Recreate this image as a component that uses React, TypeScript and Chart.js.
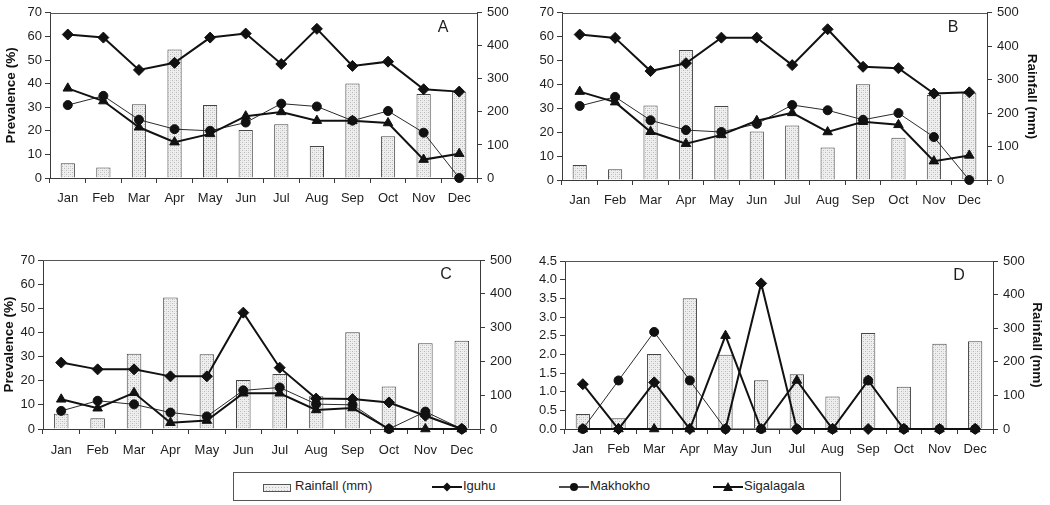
import React, { useEffect, useRef } from "react";
import { Chart, registerables } from "chart.js";

Chart.register(...registerables);

const months = ["Jan", "Feb", "Mar", "Apr", "May", "Jun", "Jul", "Aug", "Sep", "Oct", "Nov", "Dec"];
const rainfall = [45, 32, 223, 389, 221, 145, 163, 97, 286, 126, 254, 261];

const iguhuA = [60.8, 59.5, 45.8, 48.8, 59.5, 61.2, 48.3, 63.2, 47.5, 49.3, 37.6, 36.6];
const makhokhoA = [30.9, 34.8, 24.7, 20.7, 20.0, 23.5, 31.5, 30.3, 24.3, 28.4, 19.2, 0];
const sigalagalaA = [38.0, 32.6, 21.5, 15.2, 18.7, 26.2, 28.0, 24.3, 24.3, 23.3, 7.8, 10.3];

const iguhuB = [60.9, 59.5, 45.6, 48.9, 59.6, 59.6, 48.1, 63.1, 47.4, 46.8, 36.2, 36.7];
const makhokhoB = [31.0, 34.8, 25.0, 20.9, 20.1, 23.5, 31.4, 29.2, 25.2, 28.0, 18.0, 0];
const sigalagalaB = [37.0, 32.6, 20.2, 15.2, 18.9, 24.8, 28.1, 20.1, 24.4, 23.1, 7.9, 10.3];

const iguhuC = [27.5, 24.7, 24.7, 21.8, 21.8, 48.2, 25.4, 12.6, 12.4, 11.0, 5.5, 0];
const makhokhoC = [7.5, 11.7, 10.2, 6.8, 5.2, 16.0, 17.2, 10.3, 10.0, 0, 7.2, 0];
const sigalagalaC = [12.3, 8.6, 15.0, 2.6, 3.5, 14.8, 14.8, 7.9, 8.7, 0, 0, 0];

const iguhuD = [1.2, 0, 1.25, 0, 0, 3.9, 0, 0, 0, 0, 0, 0];
const makhokhoD = [0, 1.3, 2.6, 1.3, 0, 0, 0, 0, 1.3, 0, 0, 0];
const sigalagalaD = [0, 0, 0, 0, 2.5, 0, 1.3, 0, 1.3, 0, 0, 0];

const prevalenceTicks70 = { max: 70, step: 10, decimals: 0 };
const prevalenceTicks45 = { max: 4.5, step: 0.5, decimals: 1 };
const rainfallTicks = { max: 500, step: 100 };

const FONT = "'Liberation Sans', Arial, sans-serif";
const TEXT = "#1e1e1e";
const AXIS = "#3a3a3a";

function makePattern(): CanvasPattern | string {
  const c = document.createElement("canvas");
  c.width = 4;
  c.height = 4;
  const ctx = c.getContext("2d");
  if (!ctx) return "#eeeeee";
  ctx.fillStyle = "#efefef";
  ctx.fillRect(0, 0, 4, 4);
  ctx.fillStyle = "#b8b8b8";
  ctx.fillRect(0, 0, 1, 1);
  ctx.fillRect(2, 2, 1, 1);
  ctx.fillStyle = "#d8d8d8";
  ctx.fillRect(2, 0, 1, 1);
  ctx.fillRect(0, 2, 1, 1);
  return ctx.createPattern(c, "repeat") || "#eeeeee";
}

type PanelProps = {
  left: number;
  top: number;
  width: number;
  height: number;
  areaTop: number;
  leftW: number;
  rightW: number;
  xH: number;
  letter: string;
  iguhu: number[];
  makhokho: number[];
  sigalagala: number[];
  yTicks: { max: number; step: number; decimals: number };
  leftTitle: boolean;
  leftTitlePad: number;
  rightTitle: boolean;
  rightTitlePad: number;
  xPad: number;
};

function Panel(p: PanelProps) {
  const ref = useRef<HTMLCanvasElement | null>(null);
  useEffect(() => {
    if (!ref.current) return;
    const pattern = makePattern();
    const panelPlugin = {
      id: "panelDecor",
      afterDraw(chart: any) {
        const { ctx, chartArea } = chart;
        ctx.save();
        ctx.strokeStyle = "#555";
        ctx.lineWidth = 1;
        ctx.beginPath();
        ctx.moveTo(chartArea.left, Math.round(chartArea.top) + 0.5);
        ctx.lineTo(chartArea.right, Math.round(chartArea.top) + 0.5);
        ctx.stroke();
        ctx.fillStyle = TEXT;
        ctx.font = `16px ${FONT}`;
        ctx.textAlign = "center";
        ctx.textBaseline = "middle";
        ctx.fillText(p.letter, chartArea.right - 34, chartArea.top + 15);
        ctx.restore();
      },
    };
    const tickFont = { family: FONT, size: 13 };
    const titleFont = { family: FONT, size: 13.5, weight: "bold" as const };
    const chart = new Chart(ref.current, {
      type: "bar",
      data: {
        labels: months,
        datasets: [
          {
            type: "line",
            label: "Iguhu",
            data: p.iguhu,
            yAxisID: "y",
            borderColor: "#111",
            borderWidth: 2,
            pointStyle: "rectRot",
            pointRadius: 5.5,
            pointBackgroundColor: "#111",
            pointBorderColor: "#111",
            pointBorderWidth: 1,
            tension: 0,
            clip: false,
            order: 1,
          },
          {
            type: "line",
            label: "Makhokho",
            data: p.makhokho,
            yAxisID: "y",
            borderColor: "#2a2a2a",
            borderWidth: 1,
            pointStyle: "circle",
            pointRadius: 4.5,
            pointBackgroundColor: "#111",
            pointBorderColor: "#111",
            pointBorderWidth: 1,
            tension: 0,
            clip: false,
            order: 2,
          },
          {
            type: "line",
            label: "Sigalagala",
            data: p.sigalagala,
            yAxisID: "y",
            borderColor: "#111",
            borderWidth: 2,
            pointStyle: "triangle",
            pointRadius: 5.5,
            pointBackgroundColor: "#111",
            pointBorderColor: "#111",
            pointBorderWidth: 1,
            tension: 0,
            clip: false,
            order: 0,
          },
          {
            type: "bar",
            label: "Rainfall (mm)",
            data: rainfall,
            yAxisID: "y1",
            backgroundColor: pattern as any,
            borderColor: "#454545",
            borderWidth: 1,
            barPercentage: 0.4,
            categoryPercentage: 1,
            order: 10,
          },
        ] as any,
      },
      options: {
        animation: false,
        responsive: false,
        maintainAspectRatio: false,
        devicePixelRatio: 1,
        layout: { padding: { top: p.areaTop, left: 0, right: 0, bottom: 0 } },
        plugins: { legend: { display: false }, tooltip: { enabled: false } },
        scales: {
          x: {
            offset: true,
            grid: { display: true, drawOnChartArea: false, offset: true, tickLength: 5, color: AXIS },
            border: { display: true, color: AXIS, width: 1 },
            ticks: { color: TEXT, font: tickFont, padding: p.xPad, maxRotation: 0, autoSkip: false },
            afterFit: (s: any) => {
              s.height = p.xH;
            },
          },
          y: {
            position: "left",
            min: 0,
            max: p.yTicks.max,
            ticks: {
              stepSize: p.yTicks.step,
              color: TEXT,
              font: tickFont,
              padding: 3,
              callback: (v: any) => Number(v).toFixed(p.yTicks.decimals),
            },
            grid: { drawOnChartArea: false, tickLength: 5, color: AXIS },
            border: { display: true, color: AXIS, width: 1 },
            title: {
              display: p.leftTitle,
              text: "Prevalence (%)",
              color: "#111",
              font: titleFont,
              padding: { top: p.leftTitlePad, bottom: 0 },
            },
            afterFit: (s: any) => {
              s.width = p.leftW;
            },
          },
          y1: {
            position: "right",
            min: 0,
            max: rainfallTicks.max,
            ticks: { stepSize: rainfallTicks.step, color: TEXT, font: tickFont, padding: 5 },
            grid: { drawOnChartArea: false, tickLength: 5, color: AXIS },
            border: { display: true, color: AXIS, width: 1 },
            title: {
              display: p.rightTitle,
              text: "Rainfall (mm)",
              color: "#111",
              font: titleFont,
              padding: { top: p.rightTitlePad, bottom: 0 },
            },
            afterFit: (s: any) => {
              s.width = p.rightW;
            },
          },
        },
      } as any,
      plugins: [panelPlugin],
    });
    return () => chart.destroy();
  }, []);
  return (
    <canvas
      ref={ref}
      width={p.width}
      height={p.height}
      style={{ position: "absolute", left: p.left, top: p.top, width: p.width, height: p.height, display: "block" }}
    />
  );
}

function PatternSwatch() {
  return (
    <svg width="28" height="8" style={{ position: "absolute", left: 263, top: 12 }}>
      <defs>
        <pattern id="dots" width="3" height="3" patternUnits="userSpaceOnUse">
          <rect width="3" height="3" fill="#efefef" />
          <rect width="1" height="1" fill="#b8b8b8" />
        </pattern>
      </defs>
      <rect x="0.5" y="0.5" width="27" height="7" fill="url(#dots)" stroke="#555" strokeWidth="1" />
    </svg>
  );
}

function LineIcon({ x, kind }: { x: number; kind: string }) {
  let marker: React.ReactNode = null;
  if (kind === "diamond") marker = <polygon points="15,1.5 19.5,6 15,10.5 10.5,6" fill="#111" />;
  if (kind === "circle") marker = <circle cx="15" cy="6" r="4" fill="#111" />;
  if (kind === "triangle") marker = <polygon points="15,1 20,10 10,10" fill="#111" />;
  return (
    <svg width="30" height="12" style={{ position: "absolute", left: x, top: 9 }}>
      <line x1="0" y1="6" x2="30" y2="6" stroke="#111" strokeWidth={kind === "circle" ? 1.5 : 2} />
      {marker}
    </svg>
  );
}

function Legend() {
  const text: React.CSSProperties = {
    position: "absolute",
    top: 6,
    font: `13px ${FONT}`,
    color: TEXT,
    lineHeight: "16px",
    whiteSpace: "nowrap",
  };
  return (
    <div
      style={{
        position: "absolute",
        left: 233,
        top: 472,
        width: 608,
        height: 29,
        border: "1px solid #555",
        boxSizing: "border-box",
        background: "#fff",
      }}
    >
      <div style={{ position: "absolute", left: -234, top: -1 }}>
        <PatternSwatch />
        <span style={{ ...text, left: 295 }}>Rainfall (mm)</span>
        <LineIcon x={432} kind="diamond" />
        <span style={{ ...text, left: 463 }}>Iguhu</span>
        <LineIcon x={559} kind="circle" />
        <span style={{ ...text, left: 590 }}>Makhokho</span>
        <LineIcon x={713} kind="triangle" />
        <span style={{ ...text, left: 744 }}>Sigalagala</span>
      </div>
    </div>
  );
}

export default function App() {
  return (
    <div style={{ position: "absolute", left: 0, top: 0, width: 1050, height: 505, background: "#fff", overflow: "hidden" }}>
      <Panel
        left={0}
        top={0}
        width={525}
        height={230}
        areaTop={12}
        leftW={50}
        rightW={48}
        xH={52}
        letter="A"
        iguhu={iguhuA}
        makhokho={makhokhoA}
        sigalagala={sigalagalaA}
        yTicks={prevalenceTicks70}
        leftTitle={true}
        leftTitlePad={3}
        rightTitle={false}
        rightTitlePad={0}
        xPad={8}
      />
      <Panel
        left={525}
        top={0}
        width={525}
        height={230}
        areaTop={12}
        leftW={37}
        rightW={63}
        xH={50}
        letter="B"
        iguhu={iguhuB}
        makhokho={makhokhoB}
        sigalagala={sigalagalaB}
        yTicks={prevalenceTicks70}
        leftTitle={false}
        leftTitlePad={0}
        rightTitle={true}
        rightTitlePad={10}
        xPad={8}
      />
      <Panel
        left={0}
        top={235}
        width={525}
        height={235}
        areaTop={25}
        leftW={43}
        rightW={45}
        xH={41}
        letter="C"
        iguhu={iguhuC}
        makhokho={makhokhoC}
        sigalagala={sigalagalaC}
        yTicks={prevalenceTicks70}
        leftTitle={true}
        leftTitlePad={1}
        rightTitle={false}
        rightTitlePad={0}
        xPad={9}
      />
      <Panel
        left={525}
        top={235}
        width={525}
        height={235}
        areaTop={26}
        leftW={40}
        rightW={57}
        xH={41}
        letter="D"
        iguhu={iguhuD}
        makhokho={makhokhoD}
        sigalagala={sigalagalaD}
        yTicks={prevalenceTicks45}
        leftTitle={false}
        leftTitlePad={0}
        rightTitle={true}
        rightTitlePad={5}
        xPad={8}
      />
      <Legend />
    </div>
  );
}
